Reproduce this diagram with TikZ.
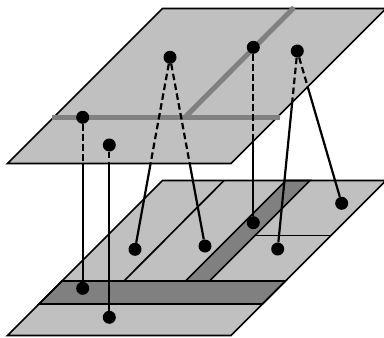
\documentclass[tikz,border=0pt]{standalone}
\definecolor{lightg}{HTML}{C0C0C0}
\definecolor{darkg}{HTML}{808080}
\definecolor{roadg}{HTML}{808080}
\begin{document}
\begin{tikzpicture}[x=1pt,y=-1pt,
  plane/.style={fill=lightg, draw=black, line width=1.7pt, line join=miter},
  band/.style={fill=darkg, draw=black, line width=1.7pt},
  edgeline/.style={draw=black, line width=1.7pt},
  road/.style={draw=roadg, line width=5pt},
  dashlink/.style={draw=black, line width=2.2pt, dash pattern=on 6.5pt off 3.5pt},
  link/.style={draw=black, line width=2.2pt},
  dot/.style={circle, fill=black, inner sep=0pt, minimum size=13pt}]
\useasboundingbox (0,0) rectangle (384,338);
\begin{scope}
\clip (0,0) rectangle (384,338);
% bottom plane
\fill[lightg] (7.5,335.5) -- (231,335.5) -- (386,180.5) -- (162.5,180.5) -- cycle;
\draw[band] (62,281) -- (285.5,281) -- (262.5,304) -- (39,304) -- cycle;
\draw[band] (286,180.5) -- (310,180.5) -- (209.5,281) -- (185.5,281) -- cycle;
\draw[edgeline] (224,180.5) -- (124,281);
\draw[edgeline] (255,235.5) -- (331,235.5);
\draw[edgeline, line join=miter] (7.5,335.5) -- (231,335.5) -- (386,180.5) -- (162.5,180.5) -- cycle;
% top plane
\draw[plane] (7.5,163.5) -- (231,163.5) -- (386,8.5) -- (162.5,8.5) -- cycle;
\draw[road] (52,117.3) -- (280,117.3);
\draw[road] (185,117.3) -- (294,7.5);
\end{scope}
% dots
\node[dot] (t1) at (82.7,117.3) {};
\node[dot] (t2) at (109.3,145) {};
\node[dot] (t3) at (170,57.3) {};
\node[dot] (t4) at (253.3,47.3) {};
\node[dot] (t5) at (297.3,51) {};
\node[dot] (b1) at (82.7,288.3) {};
\node[dot] (b2) at (109.3,317.3) {};
\node[dot] (b3) at (135,249.3) {};
\node[dot] (b4) at (205,246) {};
\node[dot] (b5) at (253.3,222.7) {};
\node[dot] (b6) at (277.7,249) {};
\node[dot] (b7) at (341.7,203.3) {};
% crossing points with the top plane's edge
\coordinate (c1) at (82.7,163.5);
\coordinate (c2) at (109.3,163.5);
\coordinate (c3) at (150.6,163.5);
\coordinate (c4) at (189.7,163.5);
\coordinate (c5) at (253.3,141.2);
\coordinate (c6) at (292.2,102.3);
\coordinate (c7) at (307.7,86.8);
% connectors
\draw[dashlink] (t1) -- (c1);
\draw[link] (c1) -- (b1);
\draw[dashlink] (t2) -- (c2);
\draw[link] (c2) -- (b2);
\draw[dashlink] (t3) -- (c3);
\draw[link] (c3) -- (b3);
\draw[dashlink] (t3) -- (c4);
\draw[link] (c4) -- (b4);
\draw[dashlink] (t4) -- (c5);
\draw[link] (c5) -- (b5);
\draw[dashlink] (t5) -- (c6);
\draw[link] (c6) -- (b6);
\draw[dashlink] (t5) -- (c7);
\draw[link] (c7) -- (b7);
\end{tikzpicture}
\end{document}
